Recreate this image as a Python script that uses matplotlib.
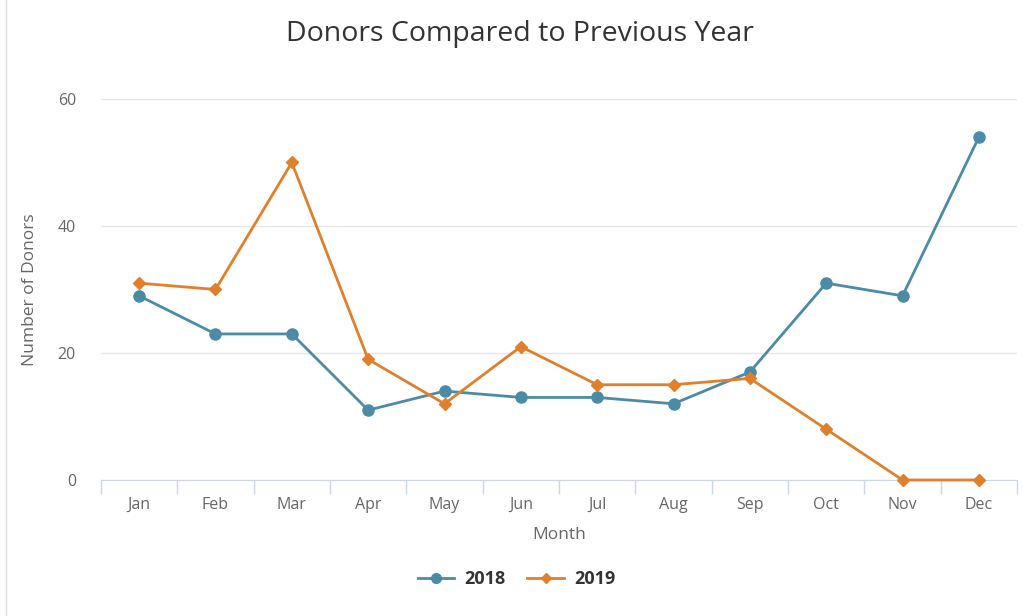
import numpy as np
import matplotlib
matplotlib.use("Agg")
import matplotlib.pyplot as plt
from matplotlib.lines import Line2D

months = ["Jan", "Feb", "Mar", "Apr", "May", "Jun",
          "Jul", "Aug", "Sep", "Oct", "Nov", "Dec"]
donors_2018 = [29, 23, 23, 11, 14, 13, 13, 12, 17, 31, 29, 54]
donors_2019 = [31, 30, 50, 19, 12, 21, 15, 15, 16, 8, 0, 0]
yticks = [0, 20, 40, 60]

blue = "#4b8ba6"
orange = "#e0802c"
txt = "#666666"

plt.rcParams['font.family'] = ['Open Sans', 'DejaVu Sans']

fig = plt.figure(figsize=(10.23, 6.16), dpi=100)
ax = fig.add_axes([0.0987, 0.2208, 0.8955, 0.6185])

x = np.arange(len(months))
ax.plot(x, donors_2018, color=blue, lw=2, marker='o', ms=8, zorder=3, clip_on=False)
ax.plot(x, donors_2019, color=orange, lw=2, marker='D', ms=6, zorder=3, clip_on=False)

ax.set_xlim(-0.5, len(months) - 0.5)
ax.set_ylim(0, 60)
ax.set_yticks(yticks)
ax.set_yticklabels([str(v) for v in yticks], color=txt, fontsize=11.5)
ax.set_xticks(x)
ax.set_xticklabels(months, color=txt, fontsize=11.5)
ax.set_xticks(np.arange(len(months) + 1) - 0.5, minor=True)
ax.tick_params(axis='x', which='major', length=0, pad=12)
ax.tick_params(axis='x', which='minor', length=10, color="#ccd6eb", width=1)
ax.tick_params(axis='y', length=0, pad=18)
ax.grid(axis='y', color="#e6e6e6", lw=1)
ax.set_axisbelow(True)
for s in ["top", "right", "left"]:
    ax.spines[s].set_visible(False)
ax.spines["bottom"].set_color("#ccd6eb")
ax.spines["bottom"].set_zorder(1)

ax.set_xlabel("Month", color=txt, fontsize=12.5, labelpad=10)
ax.set_ylabel("Number of Donors", color=txt, fontsize=12.5, labelpad=14)
fig.suptitle("Donors Compared to Previous Year", x=0.508, y=0.968,
             fontsize=20.5, color="#333333")

handles = [Line2D([], [], color=blue, lw=2, marker='o', ms=7),
           Line2D([], [], color=orange, lw=2, marker='D', ms=5)]
fig.legend(handles, ["2018", "2019"], loc="center", bbox_to_anchor=(0.505, 0.06),
           ncol=2, frameon=False, prop={'weight': 'bold', 'size': 13},
           labelcolor="#333333", handlelength=2, handletextpad=0.6,
           columnspacing=1.2)

fig.add_artist(Line2D([0.006, 0.006], [0.0, 1.0], color="#dddddd", lw=1))

fig.savefig("out.png", dpi=100)
